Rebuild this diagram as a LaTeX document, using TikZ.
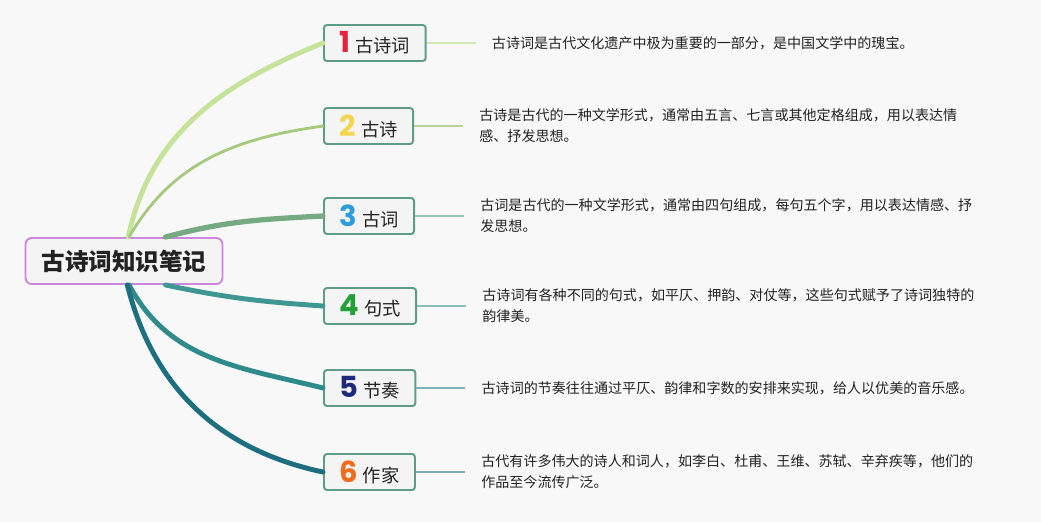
\documentclass[tikz,border=0pt]{standalone}
\usepackage{fontspec}
\setmainfont{Noto Sans CJK SC}
\newfontfamily\numfont{Poppins}
\usepackage{xcolor}
\usetikzlibrary{positioning}
\definecolor{bgcol}{HTML}{F8F8F8}
\definecolor{rootln}{HTML}{CC88DC}
\definecolor{boxln}{HTML}{5E9C89}
\definecolor{boxfill}{HTML}{F4F4F4}
\definecolor{txt}{HTML}{222222}
\definecolor{n1}{HTML}{E3243B}
\definecolor{n2}{HTML}{F4D550}
\definecolor{n3}{HTML}{2E9BDD}
\definecolor{n4}{HTML}{23A037}
\definecolor{n5}{HTML}{1E2A7A}
\definecolor{n6}{HTML}{F26A1E}
\definecolor{br1}{HTML}{C6E39C}
\definecolor{br2}{HTML}{A6C97E}
\definecolor{br3}{HTML}{76AA82}
\definecolor{br4}{HTML}{3E9793}
\definecolor{br5}{HTML}{2F8A8B}
\definecolor{br6}{HTML}{1D6F80}
\definecolor{ln1}{HTML}{D3EAB5}
\definecolor{ln2}{HTML}{B9D29A}
\definecolor{ln3}{HTML}{9CC4AE}
\definecolor{ln4}{HTML}{8BBDBD}
\definecolor{ln5}{HTML}{7DB3B6}
\definecolor{ln6}{HTML}{7FAAB5}

\begin{document}
\begin{tikzpicture}[x=0.02cm,y=-0.02cm,
  root/.style={draw=rootln,fill=boxfill,line width=1.1pt,rounded corners=3.5pt,minimum width=3.94cm,minimum height=0.92cm,text=txt,font=\fontsize{13.4}{16}\selectfont\bfseries},
  topic/.style={draw=boxln,fill=boxfill,line width=1.1pt,rounded corners=1.7pt,minimum height=0.72cm,inner xsep=0.31cm,inner ysep=0pt,anchor=west,text=txt,font=\fontsize{10.4}{12}\selectfont},
  desc/.style={align=left,inner xsep=0.32cm,text=txt,font=\fontsize{8}{11.9}\selectfont},
  branch/.style={line cap=round},
  link/.style={line width=0.6pt}]
\fill[bgcol] (0,0) rectangle (1041,522);
\useasboundingbox (0,0) rectangle (1041,522);
% topics
\foreach \i/\y/\lbl in {1/43/古诗词,2/126/古诗,3/216/古词,4/306/句式,5/388/节奏,6/472/作家}
  \node[topic] (t\i) at (323,\y) {{\numfont\bfseries\fontsize{16.5}{16}\selectfont\color{n\i}\i}\hspace{0.1cm}\lbl};
\node[root] (root) at (124,261) {古诗词知识笔记};
% branches from the root
\foreach \i/\a/\o/\n/\w in {1/80/78/202/2.8pt,2/78/60/188/1.6pt,3/30/15/183/3pt,4/-30/-12/176/2.8pt,5/-78/-62/166/2.8pt,6/-82/-76/168/2.8pt}
  \draw[branch,br\i,line width=\w] (root.\a) to[out=\o,in=\n] (t\i.west);
% notes
\foreach \i/\note in {1/{古诗词是古代文化遗产中极为重要的一部分，是中国文学中的瑰宝。},
  2/{古诗是古代的一种文学形式，通常由五言、七言或其他定格组成，用以表达情\\感、抒发思想。},
  3/{古词是古代的一种文学形式，通常由四句组成，每句五个字，用以表达情感、抒\\发思想。},
  4/{古诗词有各种不同的句式，如平仄、押韵、对仗等，这些句式赋予了诗词独特的\\韵律美。},
  5/{古诗词的节奏往往通过平仄、韵律和字数的安排来实现，给人以优美的音乐感。},
  6/{古代有许多伟大的诗人和词人，如李白、杜甫、王维、苏轼、辛弃疾等，他们的\\作品至今流传广泛。}}
  {\node[desc,right=0.98cm of t\i] (d\i) {\note};
   \draw[link,ln\i] (t\i) -- (d\i);}
\end{tikzpicture}
\end{document}
